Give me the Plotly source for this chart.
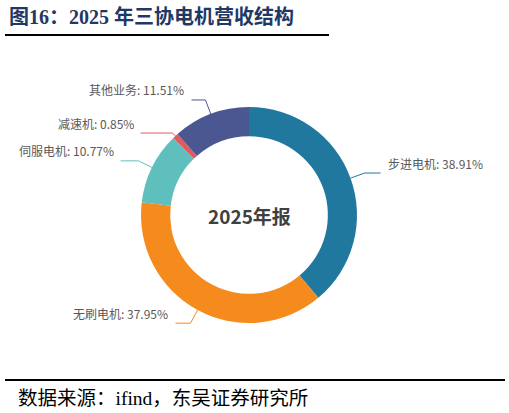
import numpy as np
import plotly.graph_objects as go

# revenue structure, 2025 annual report (%)
segments = ["步进电机", "无刷电机", "伺服电机", "减速机", "其他业务"]
shares = [38.91, 37.95, 10.77, 0.85, 11.51]
colors = ["#21789f", "#f58a1d", "#5ebfbd", "#e15a60", "#4a5790"]

W, H = 509, 413
cx, cy, R = 249, 215, 108          # ring centre / outer radius in px
hole = 0.73

# leader line styling per slice: radial length, horizontal length
radial_len = [15, 15, 15, 4, 15]
horiz_len = [16, 15, 18, 32, 14]

fig = go.Figure()
fig.add_trace(go.Pie(
    labels=segments, values=shares, hole=hole,
    sort=False, direction="clockwise", rotation=0,
    marker=dict(colors=colors, line=dict(width=0)),
    textinfo="none", hoverinfo="label+percent", showlegend=False,
    domain=dict(x=[(cx - R) / W, (cx + R) / W],
                y=[(H - cy - R) / H, (H - cy + R) / H]),
))

def px(x, y):
    return x / W, 1 - y / H

# leader lines + labels from slice mid-angles
total = sum(shares)
cum = 0.0
for name, v, c, rl, hl in zip(segments, shares, colors, radial_len, horiz_len):
    mid = (cum + v / 2) / total * 2 * np.pi
    cum += v
    dx, dy = np.sin(mid), -np.cos(mid)
    x0, y0 = cx + R * dx, cy + R * dy
    x1, y1 = cx + (R + rl) * dx, cy + (R + rl) * dy
    side = 1 if dx >= 0 else -1
    x2 = x1 + side * hl
    pts = [px(x0, y0), px(x1, y1), px(x2, y1)]
    path = "M {} {} L {} {} L {} {}".format(*[k for p in pts for k in p])
    fig.add_shape(type="path", path=path, xref="paper", yref="paper",
                  line=dict(color=c, width=1))
    tx, ty = px(x2 + side * 5, y1 - 10)
    fig.add_annotation(x=tx, y=ty, xref="paper", yref="paper",
                       text=f"{name}: {v:.2f}%", showarrow=False,
                       xanchor="left" if side > 0 else "right", yanchor="middle",
                       font=dict(family="Noto Sans CJK SC", size=12, color="#595959"))

# centre label
fig.add_annotation(x=cx / W, y=1 - cy / H, xref="paper", yref="paper",
                   text="<b>2025年报</b>", showarrow=False,
                   font=dict(family="Noto Sans CJK SC", size=19, color="#404040"))

# title, rules and source
fig.add_annotation(x=7 / W, y=1 - 17 / H, xref="paper", yref="paper",
                   text="<b>图16：2025 年三协电机营收结构</b>", showarrow=False,
                   xanchor="left", yanchor="middle",
                   font=dict(family="Liberation Serif, Noto Sans CJK SC", size=20, color="#1f3864"))
fig.add_shape(type="line", xref="paper", yref="paper",
              x0=5 / W, x1=329 / W, y0=1 - 35 / H, y1=1 - 35 / H,
              line=dict(color="#000000", width=2))
fig.add_shape(type="line", xref="paper", yref="paper",
              x0=5 / W, x1=505 / W, y0=1 - 380 / H, y1=1 - 380 / H,
              line=dict(color="#000000", width=2))
fig.add_annotation(x=16 / W, y=1 - 398 / H, xref="paper", yref="paper",
                   text="数据来源：ifind，东吴证券研究所", showarrow=False,
                   xanchor="left", yanchor="middle",
                   font=dict(family="Liberation Serif, Noto Sans CJK SC", size=19.5, color="#000000"))

fig.update_layout(width=W, height=H, margin=dict(l=0, r=0, t=0, b=0),
                  paper_bgcolor="white", plot_bgcolor="white")

# drop the default page margin so the figure sits at the window origin
fig.write_html("out.html", config={"displayModeBar": False},
               post_script="document.body.style.margin='0';")
